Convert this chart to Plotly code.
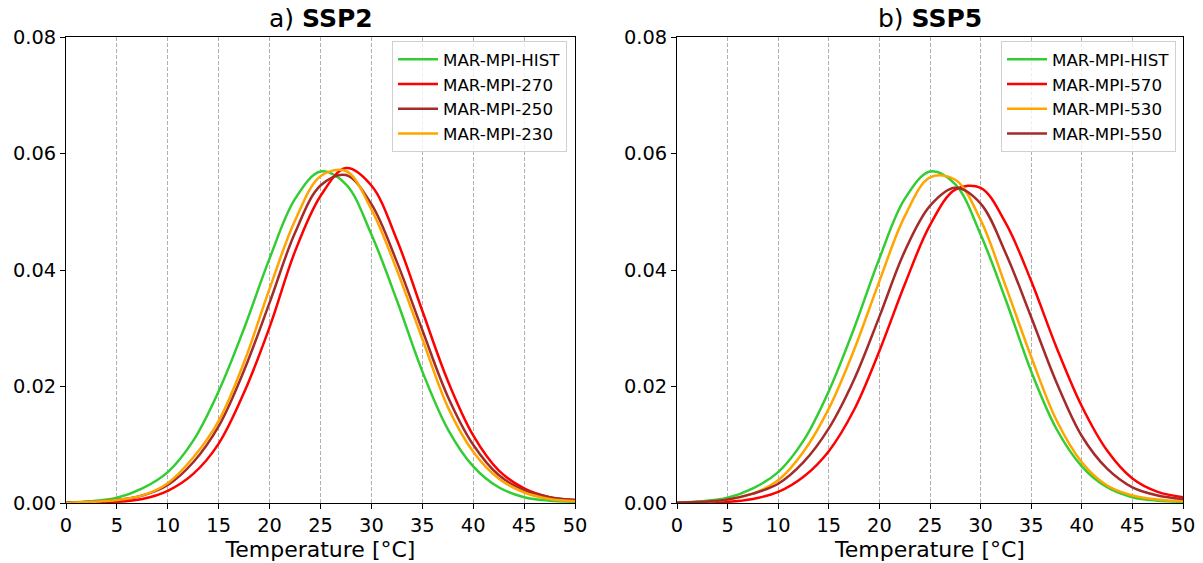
import plotly.graph_objects as go
from plotly.subplots import make_subplots

# Temperature sample points (°C)
temp = [0, 2.5, 5, 7.5, 10, 12.5, 15, 17.5, 20, 22.5, 25, 27.5, 30, 32.5, 35, 37.5, 40, 42.5, 45, 47.5, 50]

# Panel a) SSP2 (values read from figure)
hist = [0.0001, 0.0003, 0.0009, 0.0025, 0.0053, 0.0107, 0.0192, 0.0300, 0.0420, 0.0522, 0.0569, 0.0547, 0.0461, 0.0348, 0.0226, 0.0127, 0.0063, 0.0027, 0.0010, 0.0004, 0.0002]
ssp2_270 = [0.0000, 0.0001, 0.0002, 0.0007, 0.0021, 0.0050, 0.0102, 0.0190, 0.0302, 0.0432, 0.0527, 0.0575, 0.0545, 0.0452, 0.0330, 0.0210, 0.0116, 0.0056, 0.0025, 0.0010, 0.0005]
ssp2_250 = [0.0000, 0.0002, 0.0005, 0.0013, 0.0031, 0.0070, 0.0132, 0.0228, 0.0344, 0.0464, 0.0545, 0.0563, 0.0513, 0.0414, 0.0297, 0.0183, 0.0100, 0.0048, 0.0022, 0.0010, 0.0005]
ssp2_230 = [0.0000, 0.0002, 0.0005, 0.0013, 0.0034, 0.0078, 0.0141, 0.0242, 0.0368, 0.0485, 0.0561, 0.0570, 0.0504, 0.0400, 0.0282, 0.0165, 0.0088, 0.0042, 0.0018, 0.0007, 0.0003]

# Panel b) SSP5 (values read from figure)
ssp5_570 = [0.0000, 0.0001, 0.0002, 0.0007, 0.0019, 0.0045, 0.0089, 0.0160, 0.0261, 0.0375, 0.0477, 0.0538, 0.0541, 0.0480, 0.0381, 0.0267, 0.0166, 0.0090, 0.0042, 0.0019, 0.0010]
ssp5_530 = [0.0001, 0.0002, 0.0006, 0.0016, 0.0039, 0.0088, 0.0162, 0.0263, 0.0381, 0.0492, 0.0559, 0.0555, 0.0486, 0.0371, 0.0251, 0.0142, 0.0070, 0.0030, 0.0013, 0.0006, 0.0003]
ssp5_550 = [0.0001, 0.0002, 0.0006, 0.0016, 0.0033, 0.0070, 0.0128, 0.0212, 0.0320, 0.0432, 0.0510, 0.0541, 0.0514, 0.0428, 0.0319, 0.0207, 0.0115, 0.0059, 0.0027, 0.0013, 0.0007]

x_ticks = [0, 5, 10, 15, 20, 25, 30, 35, 40, 45, 50]
y_ticks = [0.0, 0.02, 0.04, 0.06, 0.08]

GREEN = "#32CD32"
RED = "#FF0000"
BROWN = "#A52A2A"
ORANGE = "#FFA500"

FONT = "DejaVu Sans"

fig = make_subplots(rows=1, cols=2, horizontal_spacing=0.09)

panel_a = [("MAR-MPI-HIST", hist, GREEN), ("MAR-MPI-270", ssp2_270, RED),
           ("MAR-MPI-250", ssp2_250, BROWN), ("MAR-MPI-230", ssp2_230, ORANGE)]
panel_b = [("MAR-MPI-HIST", hist, GREEN), ("MAR-MPI-570", ssp5_570, RED),
           ("MAR-MPI-530", ssp5_530, ORANGE), ("MAR-MPI-550", ssp5_550, BROWN)]

for name, vals, col in panel_a:
    fig.add_trace(go.Scatter(x=temp, y=vals, mode="lines", name=name,
                             line=dict(color=col, width=2.5, shape="spline", smoothing=1.0),
                             legend="legend"), row=1, col=1)
for name, vals, col in panel_b:
    fig.add_trace(go.Scatter(x=temp, y=vals, mode="lines", name=name,
                             line=dict(color=col, width=2.5, shape="spline", smoothing=1.0),
                             legend="legend2"), row=1, col=2)

W = 1203
H = 563
L = 66
R = 20
T = 37
B = 60
plot_w = W - L - R
plot_h = H - T - B
dom_a = [0, (575 - L) / plot_w]
dom_b = [(677 - L) / plot_w, 1]

axis_common = dict(showline=True, linecolor="black", linewidth=1.1, mirror=True,
                   ticks="outside", ticklen=5, tickwidth=1.1, tickcolor="black",
                   tickfont=dict(family=FONT, size=19.4, color="black"), zeroline=False,
                   automargin=False)

for i, dom in enumerate([dom_a, dom_b]):
    xa = "xaxis" if i == 0 else "xaxis2"
    ya = "yaxis" if i == 0 else "yaxis2"
    fig.layout[xa].update(domain=dom, range=[0, 50], tickvals=x_ticks,
                          showgrid=True, gridcolor="#b0b0b0", griddash="4px,2px", gridwidth=1,
                          title=dict(text="Temperature [°C]", font=dict(family=FONT, size=22, color="black"), standoff=2),
                          **axis_common)
    fig.layout[ya].update(range=[0, 0.08], tickvals=y_ticks, tickformat=".2f",
                          showgrid=False, **axis_common)

legend_common = dict(font=dict(family=FONT, size=16.7, color="black"),
                     bgcolor="rgba(255,255,255,0.8)", bordercolor="#d0d0d0", borderwidth=1,
                     xanchor="right", yanchor="top", tracegroupgap=0, itemwidth=40)

leg_y = (503 - 41) / plot_h

fig.update_layout(
    width=W, height=H,
    margin=dict(l=L, r=R, t=T, b=B),
    plot_bgcolor="white", paper_bgcolor="white",
    font=dict(family=FONT, color="black"),
    legend=dict(x=(567 - L) / plot_w, y=leg_y, **legend_common),
    legend2=dict(x=(1176 - L) / plot_w, y=leg_y, **legend_common),
    annotations=[
        dict(text="a) <b>SSP2</b>", x=(dom_a[0] + dom_a[1]) / 2, y=1.0, xref="paper", yref="paper",
             xanchor="center", yanchor="bottom", yshift=2, showarrow=False,
             font=dict(family=FONT, size=25, color="black")),
        dict(text="b) <b>SSP5</b>", x=(dom_b[0] + dom_b[1]) / 2, y=1.0, xref="paper", yref="paper",
             xanchor="center", yanchor="bottom", yshift=2, showarrow=False,
             font=dict(family=FONT, size=25, color="black")),
    ],
)

# Remove the browser's default page margin so the figure fills the window exactly.
fig.write_html("out.html", config={"displayModeBar": False},
               post_script="document.body.style.margin='0';document.body.style.padding='0';")
